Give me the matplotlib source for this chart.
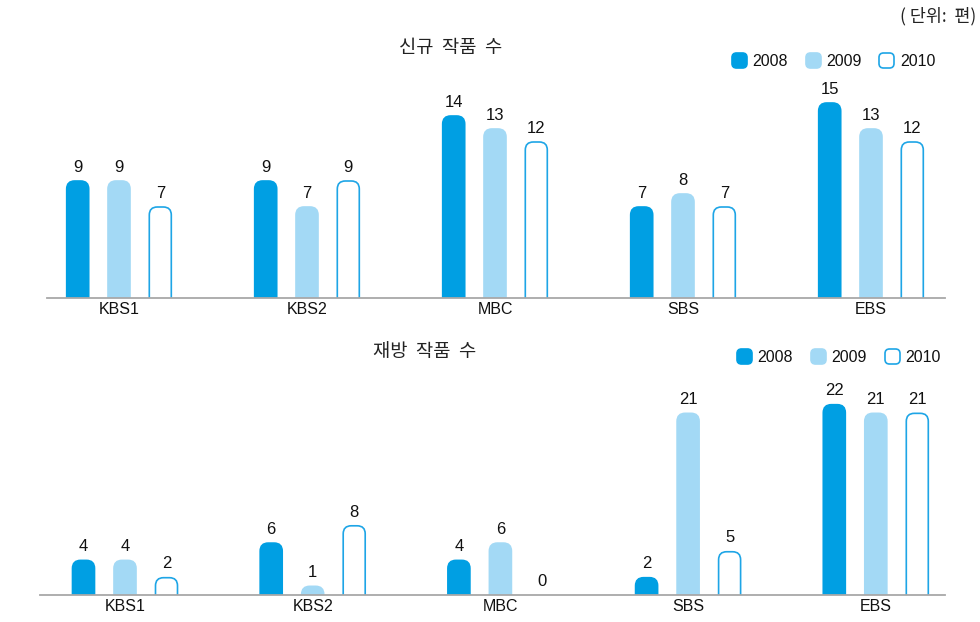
import matplotlib
matplotlib.use("Agg")
import matplotlib.pyplot as plt
from matplotlib.patches import FancyBboxPatch

plt.rcParams['font.family'] = ['Liberation Sans', 'Noto Sans CJK KR', 'DejaVu Sans']

channels = ["KBS1", "KBS2", "MBC", "SBS", "EBS"]
years = ["2008", "2009", "2010"]
new_2008 = [9, 9, 14, 7, 15]
new_2009 = [9, 7, 13, 8, 13]
new_2010 = [7, 9, 12, 7, 12]
re_2008 = [4, 6, 4, 2, 22]
re_2009 = [4, 1, 6, 21, 21]
re_2010 = [2, 8, 0, 5, 21]

c_dark = "#009FE3"
c_light = "#A3D9F5"
c_edge = "#1EA5E6"
styles = [dict(fc=c_dark, ec=c_dark), dict(fc=c_light, ec=c_light), dict(fc="white", ec=c_edge)]

W, H = 980, 622
fig = plt.figure(figsize=(W / 100, H / 100), dpi=100)


def make_axes(left_px, right_px, base_px, top_px, center0_px, spacing_px, ymax):
    ax = fig.add_axes([left_px / W, (H - base_px) / H, (right_px - left_px) / W, (base_px - top_px) / H])
    ax.set_xlim((left_px - center0_px) / spacing_px, (right_px - center0_px) / spacing_px)
    ax.set_ylim(0, ymax)
    for s in ["top", "left", "right"]:
        ax.spines[s].set_visible(False)
    ax.spines["bottom"].set_color("#A8A8A8")
    ax.spines["bottom"].set_linewidth(1.3)
    ax.spines["bottom"].set_zorder(5)
    ax.set_yticks([])
    ax.set_xticks(range(len(channels)))
    ax.set_xticklabels(channels, fontsize=11.5, color="#111111")
    ax.tick_params(axis="x", length=0, pad=3)
    return ax


def draw_bars(ax, series, spacing_px, base_px, top_px, ymax, offset_px, width_px, rad_px):
    xpp = 1 / spacing_px
    ypp = ymax / (base_px - top_px)
    w = width_px * xpp
    rx = rad_px * xpp
    ry = rad_px * ypp
    for k, vals in enumerate(series):
        off = (k - 1) * offset_px * xpp
        for i, v in enumerate(vals):
            x = i + off
            if v > 0:
                p = FancyBboxPatch((x - w / 2, -ry * 1.5), w, v + ry * 1.5,
                                   boxstyle=f"round,pad=0,rounding_size={rx}",
                                   mutation_aspect=ry / rx,
                                   facecolor=styles[k]["fc"], edgecolor=styles[k]["ec"],
                                   linewidth=1.2, zorder=3)
                ax.add_patch(p)
            ax.annotate(str(v), (x, v), xytext=(0, 4.5), textcoords="offset points",
                        ha="center", va="bottom", fontsize=12, color="#111111")


# top panel
ax1 = make_axes(47, 945, 298, 80, 119, 188, 218 / 13.0)
draw_bars(ax1, [new_2008, new_2009, new_2010], 188, 298, 80, 218 / 13.0, 41.3, 22, 8)

# bottom panel
ax2 = make_axes(40, 945, 595, 390, 125, 187.7, 205 / 8.65)
draw_bars(ax2, [re_2008, re_2009, re_2010], 187.7, 595, 390, 205 / 8.65, 41.5, 22, 8)

# titles
fig.text(451 / W, 1 - 48 / H, "신규  작품  수", ha="center", va="center", fontsize=13.5,
         family=["Noto Sans CJK KR"], color="#222222")
fig.text(425 / W, 1 - 352 / H, "재방  작품  수", ha="center", va="center", fontsize=13.5,
         family=["Noto Sans CJK KR"], color="#222222")
fig.text(976 / W, 1 - 16 / H, "( 단위:  편)", ha="right", va="center", fontsize=12.5,
         family=["Noto Sans CJK KR"], color="#222222")


# legends
def legend(y_px, box_x, text_x):
    for k in range(3):
        x0 = box_x[k]
        size = 16
        p = FancyBboxPatch(((x0) / 100, (H - y_px - size / 2 + 1) / 100), size / 100 - 0.01, (size - 1) / 100,
                           boxstyle="round,pad=0,rounding_size=0.045",
                           transform=fig.dpi_scale_trans,
                           facecolor=styles[k]["fc"], edgecolor=styles[k]["ec"], linewidth=1.2)
        fig.patches.append(p)
        fig.text(text_x[k] / W, 1 - y_px / H, years[k], ha="left", va="center", fontsize=11.5,
                 color="#111111")


legend(61, [732, 806, 879], [752, 826, 900])
legend(357, [737, 811, 885], [757, 831, 905])

fig.savefig("out.png", dpi=100)
